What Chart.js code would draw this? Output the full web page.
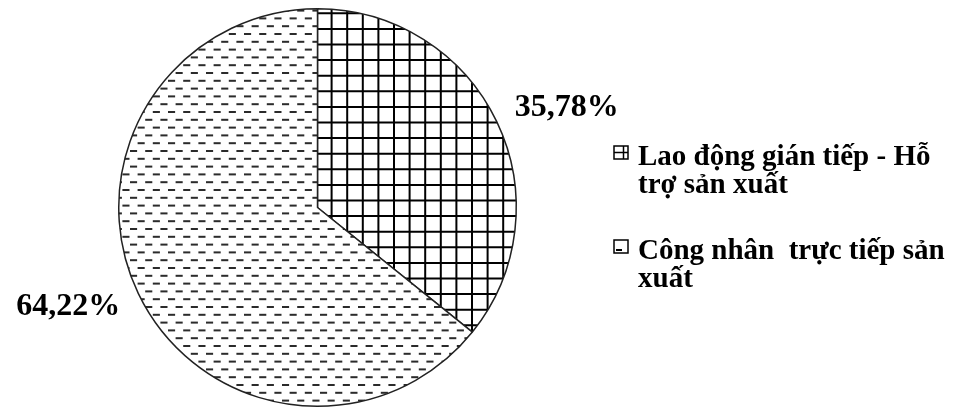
<!DOCTYPE html>
<html lang="vi">
<head>
<meta charset="utf-8">
<script src="https://cdn.jsdelivr.net/npm/chart.js@4.4.1/dist/chart.umd.min.js"></script>
<style>
  html, body { margin: 0; padding: 0; background: #fff; }
  #wrap { position: relative; width: 954px; height: 410px; }
  #legend {
    position: absolute; left: 613px; top: 141px; width: 341px;
    font-family: "Liberation Serif", "Times New Roman", serif;
    font-weight: bold; font-size: 29px; line-height: 28px; color: #000;
  }
  .item { display: flex; align-items: flex-start; }
  .item + .item { margin-top: 38px; }
  .item span { white-space: pre-wrap; }
  .item canvas { flex: none; margin-top: 4px; margin-right: 9px; }
</style>
</head>
<body>
<div id="wrap">
  <canvas id="pie" width="954" height="410"></canvas>
  <div id="legend"></div>
</div>
<script>
document.addEventListener('DOMContentLoaded', function () {
    const categories = ['Lao động gián tiếp - Hỗ trợ sản xuất', 'Công nhân  trực tiếp sản xuất'];
    const shares = [35.78, 64.22];
    const shareLabels = ['35,78%', '64,22%'];

    // grid hatch (square cells) drawn over the whole canvas
    function gridPattern(ctx, w, h, step, x0, y0) {
        const c = document.createElement('canvas');
        c.width = w; c.height = h;
        const g = c.getContext('2d');
        g.fillStyle = '#fff';
        g.fillRect(0, 0, w, h);
        g.strokeStyle = '#000';
        g.lineWidth = 2;
        g.beginPath();
        for (let x = x0 % step; x < w; x += step) { g.moveTo(x, 0); g.lineTo(x, h); }
        for (let y = y0 % step; y < h; y += step) { g.moveTo(0, y); g.lineTo(w, y); }
        g.stroke();
        return ctx.createPattern(c, 'repeat');
    }

    // brick-like short dashes
    function dashPattern(ctx, w, h, period, rowStep, x0, y0) {
        const c = document.createElement('canvas');
        c.width = w; c.height = h;
        const g = c.getContext('2d');
        g.fillStyle = '#fff';
        g.fillRect(0, 0, w, h);
        g.fillStyle = '#2b2b2b';
        let row = 0;
        for (let y = y0 % (rowStep * 2); y < h; y += rowStep, row++) {
            const shift = (row % 2) * period / 2;
            for (let x = (x0 + shift) % period - period; x < w; x += period) {
                g.fillRect(x, y - 1, period / 2 - 0.5, 2);
            }
        }
        return ctx.createPattern(c, 'repeat');
    }

    const canvas = document.getElementById('pie');
    const ctx = canvas.getContext('2d');
    const fills = [
        gridPattern(ctx, 954, 410, 15.6, 316, 13.3),
        dashPattern(ctx, 954, 410, 15.2, 7.8, 130, 151)
    ];

    const pctLabels = {
        id: 'pctLabels',
        afterDatasetsDraw(chart) {
            const c = chart.ctx;
            const arcs = chart.getDatasetMeta(0).data;
            c.save();
            c.font = 'bold 32px "Liberation Serif", "Times New Roman", serif';
            c.fillStyle = '#000';
            c.textBaseline = 'middle';
            arcs.forEach((arc, i) => {
                const a = (arc.startAngle + arc.endAngle) / 2;
                const r = arc.outerRadius;
                const x = arc.x + Math.cos(a) * r * 1.1;
                const y = arc.y + Math.sin(a) * r * 1.16;
                c.textAlign = Math.cos(a) >= 0 ? 'left' : 'right';
                c.fillText(shareLabels[i], x, y);
            });
            c.restore();
        }
    };

    new Chart(ctx, {
        type: 'pie',
        data: {
            labels: categories,
            datasets: [{
                data: shares,
                backgroundColor: fills,
                borderColor: '#222',
                borderWidth: 1.5
            }]
        },
        options: {
            responsive: false,
            animation: false,
            layout: { padding: { left: 118, right: 437, top: 8, bottom: 3 } },
            plugins: {
                legend: { display: false },
                tooltip: { enabled: false }
            }
        },
        plugins: [pctLabels]
    });

    // Legend with small pattern swatches
    const legendEl = document.getElementById('legend');
    const swatchDraw = [
        g => {
            g.strokeRect(1, 1, 14, 13);
            g.beginPath();
            g.moveTo(1, 7.5); g.lineTo(15, 7.5);
            g.moveTo(10.5, 1); g.lineTo(10.5, 14);
            g.stroke();
        },
        g => {
            g.strokeRect(1, 1, 14, 13);
            g.fillStyle = '#000';
            g.fillRect(3, 10, 6, 2);
        }
    ];
    categories.forEach((name, i) => {
        const item = document.createElement('div');
        item.className = 'item';
        const sw = document.createElement('canvas');
        sw.width = 16; sw.height = 15;
        const g = sw.getContext('2d');
        g.strokeStyle = '#000';
        g.lineWidth = 1.5;
        swatchDraw[i](g);
        const txt = document.createElement('span');
        txt.textContent = name;
        item.appendChild(sw);
        item.appendChild(txt);
        legendEl.appendChild(item);
    });
});
</script>
</body>
</html>
